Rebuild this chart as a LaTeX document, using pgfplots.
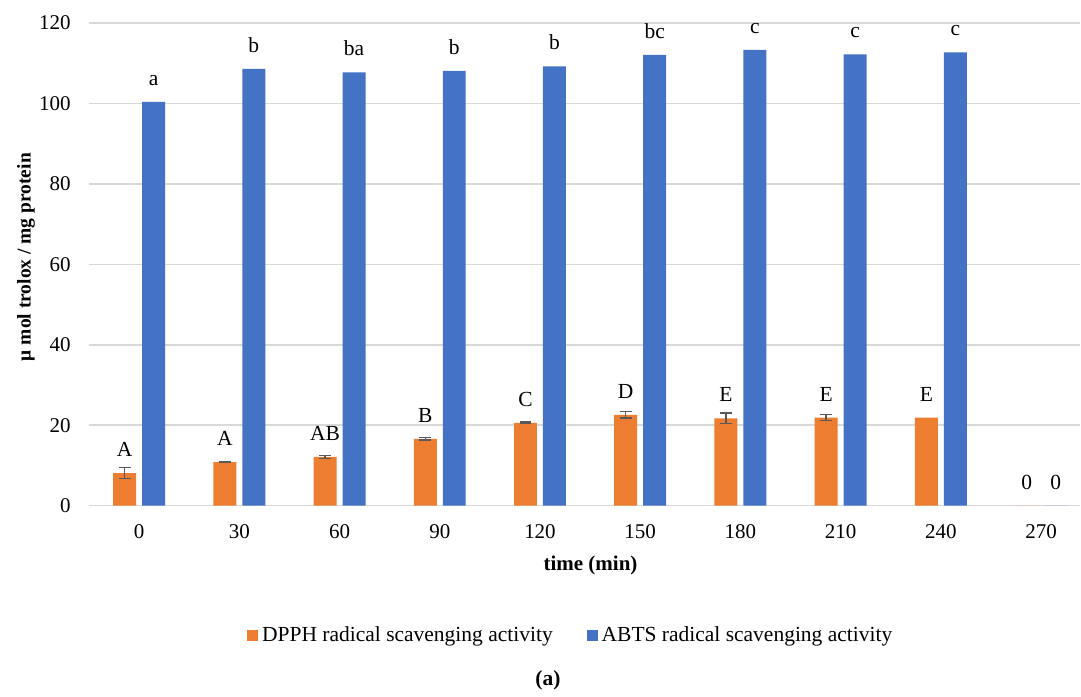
\documentclass[border=0pt]{standalone}
\usepackage{fontspec}
\setmainfont{Liberation Serif}
\usepackage{pgfplots}
\usepackage{pgfplotstable}
\pgfplotsset{compat=1.18}
\definecolor{dpph}{HTML}{ED7D31}
\definecolor{abts}{HTML}{4472C4}
\definecolor{gridc}{HTML}{D9D9D9}
\definecolor{errc}{HTML}{595959}

\pgfplotstableread{
x y lab
0 8.1 A
1 10.85 A
2 12.1 AB
3 16.6 B
4 20.6 C
5 22.6 D
6 21.7 E
7 21.9 E
8 21.9 E
9 0 0
}\dpph

% error bars, x positions at the centre of the DPPH bars
\pgfplotstableread{
x y e
-0.1446 8.1 1.4
0.8554 10.85 0.15
1.8554 12.1 0.35
2.8554 16.6 0.3
3.8554 20.6 0.15
4.8554 22.6 0.75
5.8554 21.7 1.3
6.8554 21.9 0.75
}\dppherr

\pgfplotstableread{
x y lab
0 100.4 a
1 108.6 b
2 107.7 ba
3 108.1 b
4 109.2 b
5 112.1 bc
6 113.3 c
7 112.2 c
8 112.7 c
9 0 0
}\abts

\begin{document}
\begin{tikzpicture}
\path (-44.5pt,-94pt) rectangle (496pt,253pt);
\begin{axis}[
  at={(0,0)}, anchor=south west,
  width=496pt, height=241.5pt, scale only axis,
  xmin=-0.5, xmax=9.39, ymin=0, ymax=120,
  clip=false,
  ytick={0,20,...,120},
  xtick={0,...,9}, xticklabels={0,30,60,90,120,150,180,210,240,270},
  ymajorgrids, grid style={gridc, line width=0.75pt},
  axis line style={draw=none},
  major tick length=0pt,
  /pgf/number format/assume math mode=true,
  tick label style={font=\fontsize{10.5}{12}\selectfont, inner sep=0pt},
  yticklabel style={anchor=east, xshift=-9pt},
  xticklabel style={anchor=base, yshift=-16.5pt},
  xlabel={\textbf{time (min)}},
  xlabel style={at={(0.506,-0.1346)}, anchor=base, inner sep=0pt, font=\fontsize{10.5}{13}\selectfont},
  ylabel={\textbf{μ mol trolox / mg protein}},
  ylabel style={at={(-0.0635,0.515)}, anchor=center, inner sep=0pt, font=\fontsize{9.75}{12}\selectfont},
  legend columns=2,
  legend style={draw=none, at={(0.487,-0.269)}, anchor=center, font=\fontsize{10.75}{13}\selectfont,
    /tikz/every even column/.append style={column sep=15pt}},
  every node near coord/.append style={anchor=base, yshift=8.25pt, inner sep=0pt, font=\fontsize{10.75}{13}\selectfont, text=black},
]
\addplot[ybar, bar width=11.5pt, bar shift=-7.25pt, fill=dpph, draw=none,
  nodes near coords, point meta=explicit symbolic,
  every node near coord/.append style={xshift=-7.25pt},
  legend image code/.code={\fill[dpph] (0pt,-2.75pt) rectangle (5.5pt,2.75pt);}]
  table[x=x, y=y, meta=lab]{\dpph};
\addlegendentry{DPPH radical scavenging activity}
\addplot[ybar, bar width=11.5pt, bar shift=7.25pt, fill=abts, draw=none,
  nodes near coords, point meta=explicit symbolic,
  every node near coord/.append style={xshift=7.25pt},
  legend image code/.code={\fill[abts] (0pt,-2.75pt) rectangle (5.5pt,2.75pt);}]
  table[x=x, y=y, meta=lab]{\abts};
\addlegendentry{ABTS radical scavenging activity}
\addplot[draw=none, mark=none, forget plot,
  error bars/.cd, y dir=both, y explicit, error mark=-,
  error bar style={errc, line width=0.75pt},
  error mark options={rotate=90, errc, mark size=3pt, line width=0.75pt}]
  table[x=x, y=y, y error=e]{\dppherr};
\node[font=\fontsize{10.75}{13}\selectfont\bfseries, anchor=center] at (rel axis cs:0.463,-0.362) {(a)};
\end{axis}
\end{tikzpicture}
\end{document}
